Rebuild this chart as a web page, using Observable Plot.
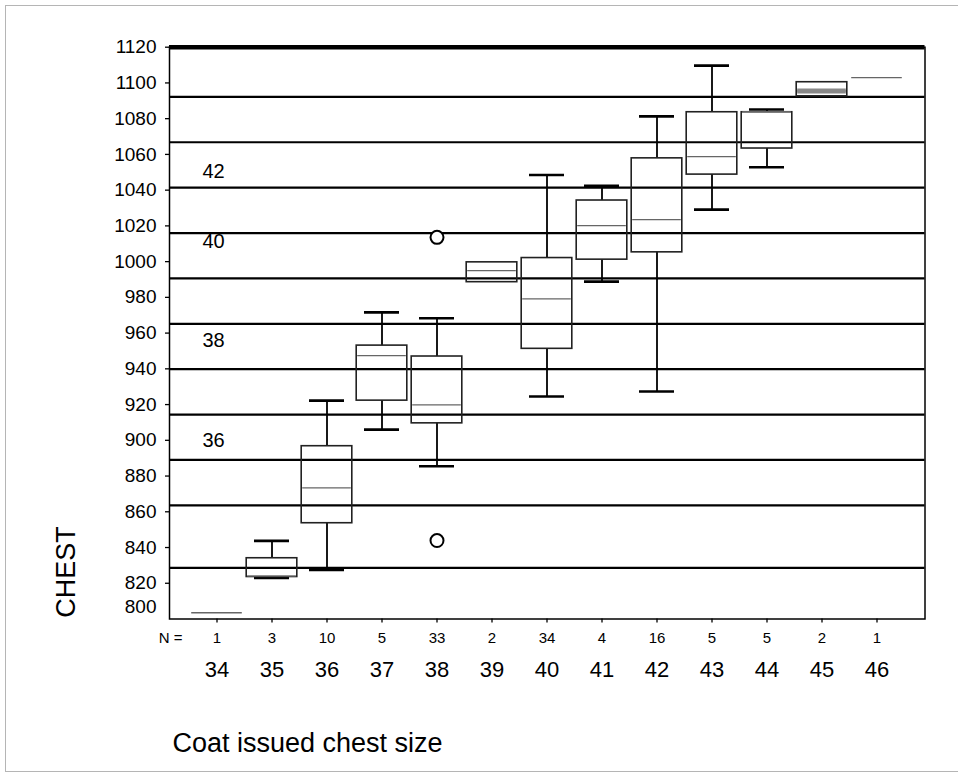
<!DOCTYPE html>
<html>
<head>
<meta charset="utf-8">
<script src="https://cdn.jsdelivr.net/npm/d3@7"></script>
<script src="https://cdn.jsdelivr.net/npm/@observablehq/plot@0.6"></script>
<style>
  html, body { margin: 0; padding: 0; background: #fff; }
  #wrap { position: relative; width: 958px; height: 773px; overflow: hidden; }
  #border { position: absolute; left: 5px; top: 5px; width: 1000px; height: 765px;
            border-top: 1.5px solid #b5b5b5; border-left: 1.5px solid #b5b5b5; border-bottom: 1.5px solid #b5b5b5; }
  #chart { position: absolute; left: 0; top: 0; }
</style>
</head>
<body>
<div id="wrap"><div id="border"></div><div id="chart"></div></div>
<script>
// Coat issued chest size (categories) and number of cases
const sizes  = [34, 35, 36, 37, 38, 39, 40, 41, 42, 43, 44, 45, 46];
const counts = [1, 3, 10, 5, 33, 2, 34, 4, 16, 5, 5, 2, 1];

// Box-plot statistics of CHEST (mm) per category
const lowWhisker  = [null, 823, 827.5, 906, 885.5, null, 924.5, 988.8, 927.3, 1029.1, 1052.8, null, null];
const q1          = [803.5, 823.5, 853.6, 922.2, 909.5, 988.5, 951.2, 1001.1, 1005.2, 1048.7, 1063.3, 1092.5, 1103];
const median      = [803.5, 824, 873.4, 947.4, 919.8, 995, 979.2, 1020.2, 1023.5, 1058.8, 1084, 1095.5, 1103];
const q3          = [803.5, 834, 896.7, 953, 946.9, 999.6, 1002, 1034.2, 1057.8, 1083.6, 1083.6, 1100.4, 1103];
const highWhisker = [null, 843.7, 922.2, 971.6, 968.3, null, 1048.5, 1042.5, 1081.3, 1109.7, 1085.1, null, null];

// Outliers (circles)
const outlierSizes  = [38, 38];
const outlierValues = [1013.6, 843.9];

// Horizontal reference lines (inch boundaries in mm) and their labels
const refLines = [828.6, 863.6, 889, 914.4, 939.8, 965.2, 990.6, 1016, 1041.4, 1066.8, 1092.2];
const refLabels = ["36", "38", "40", "42"];
const refLabelValues = [900, 956, 1011, 1050.5];

// Axis ticks
const yTicks = [820, 840, 860, 880, 900, 920, 940, 960, 980, 1000, 1020, 1040, 1060, 1080, 1100, 1120];
const yMin = 800, yMax = 1120;

const stats = sizes.map((s, i) => ({
  size: s, n: counts[i], lo: lowWhisker[i], q1: q1[i], med: median[i], q3: q3[i], hi: highWhisker[i]
}));
const boxes = stats.filter(d => d.n > 1);
const singles = stats.filter(d => d.n === 1);
const upper = stats.filter(d => d.hi != null);
const lower = stats.filter(d => d.lo != null);
const outliers = outlierSizes.map((s, i) => ({size: s, value: outlierValues[i]}));
const refText = refLabels.map((t, i) => ({label: t, value: refLabelValues[i]}));
const countOf = new Map(sizes.map((s, i) => [s, counts[i]]));

const FONT = "'Liberation Sans', Arial, Helvetica, sans-serif";
const boxInset = 2.2, capInset = 10;

const chart = Plot.plot({
  width: 958,
  height: 773,
  marginLeft: 169,
  marginRight: 33.5,
  marginTop: 46.7,
  marginBottom: 154.5,
  style: {fontFamily: FONT, color: "black", background: "transparent", overflow: "visible"},
  x: {type: "band", domain: sizes, paddingInner: 0, paddingOuter: 0.316, axis: null},
  y: {domain: [yMin, yMax], axis: null},
  marks: [
    // reference lines
    Plot.ruleY(refLines, {stroke: "black", strokeWidth: 2.2}),
    Plot.text(refText, {y: "value", text: "label", frameAnchor: "left", dx: 33, textAnchor: "start",
      fontSize: 20, fill: "black"}),
    // whiskers
    Plot.ruleX(upper, {x: "size", y1: "q3", y2: "hi", stroke: "black", strokeWidth: 1.8}),
    Plot.ruleX(lower, {x: "size", y1: "lo", y2: "q1", stroke: "black", strokeWidth: 1.8}),
    Plot.tickY(upper, {x: "size", y: "hi", stroke: "black", strokeWidth: 2.6, insetLeft: capInset, insetRight: capInset}),
    Plot.tickY(lower, {x: "size", y: "lo", stroke: "black", strokeWidth: 2.6, insetLeft: capInset, insetRight: capInset}),
    // boxes
    Plot.barY(boxes, {x: "size", y1: "q1", y2: "q3", fill: "none", stroke: "#222", strokeWidth: 1.6,
      insetLeft: boxInset, insetRight: boxInset}),
    Plot.tickY(boxes, {x: "size", y: "med", stroke: "#666", strokeWidth: 1.3, insetLeft: boxInset + 1, insetRight: boxInset + 1}),
    Plot.tickY(boxes.filter(d => d.size === 45), {x: "size", y: "med", stroke: "#888", strokeWidth: 5,
      insetLeft: boxInset + 1, insetRight: boxInset + 1}),
    // single-case categories
    Plot.tickY(singles, {x: "size", y: "med", stroke: "#666", strokeWidth: 1.3, insetLeft: boxInset, insetRight: boxInset}),
    // outliers
    Plot.dot(outliers, {x: "size", y: "value", r: 6.5, stroke: "black", strokeWidth: 2, fill: "white"}),
    // frame
    Plot.frame({stroke: "black", strokeWidth: 1.5}),
    Plot.ruleY([yMax], {stroke: "black", strokeWidth: 4.5}),
    // y axis
    Plot.axisY({ticks: yTicks, tickFormat: d => String(d), tickSize: 4, tickPadding: 9, fontSize: 19,
      color: "black", strokeWidth: 1.3, label: null}),
    Plot.axisY({ticks: [yMin], tickFormat: d => String(d), tickSize: 0, tickPadding: 13, dy: -12,
      fontSize: 19, color: "black", label: null}),
    // x axis: N row and category row
    Plot.axisX({tickSize: 4, tickPadding: 9, fontSize: 15, tickFormat: d => String(countOf.get(d)),
      color: "black", strokeWidth: 1.3, label: null}),
    Plot.axisX({tickSize: 0, tickPadding: 42, fontSize: 22, tickFormat: d => String(d), color: "black", label: null}),
    Plot.text(["N ="], {text: d => d, frameAnchor: "bottom-left", dx: 1, dy: 19, textAnchor: "middle",
      lineAnchor: "middle", fontSize: 15, fill: "black"}),
    // axis titles
    Plot.text(["CHEST"], {text: d => d, frameAnchor: "bottom-left", dx: -103, dy: -47, rotate: -90,
      textAnchor: "middle", lineAnchor: "middle", fontSize: 27, fill: "black"}),
    Plot.text(["Coat issued chest size"], {text: d => d, frameAnchor: "bottom-left", dx: 3, dy: 124,
      textAnchor: "start", lineAnchor: "middle", fontSize: 27, fill: "black"})
  ]
});
document.getElementById("chart").appendChild(chart);
</script>
</body>
</html>
